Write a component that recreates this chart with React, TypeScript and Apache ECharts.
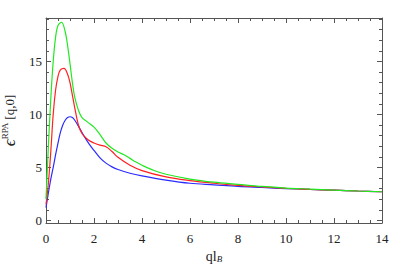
import React, { useEffect, useRef } from "react";
import * as echarts from "echarts";

const xTicks = [0, 2, 4, 6, 8, 10, 12, 14];
const yTicks = [0, 5, 10, 15];
const yMinorTicks = [1, 2, 3, 4, 6, 7, 8, 9, 11, 12, 13, 14, 16, 17, 18, 19];

const qBlue = [0, 0.1, 0.2, 0.3, 0.4, 0.5, 0.6, 0.7, 0.8, 0.9, 1.0, 1.1, 1.2, 1.4, 1.6, 1.8, 2.0, 2.25, 2.5, 2.75, 3.0, 3.5, 4, 5, 6, 7, 8, 9, 10, 11, 12, 13, 14];
const vBlue = [1.2, 2.6, 3.9, 5.0, 6.2, 7.3, 8.3, 9.0, 9.45, 9.7, 9.78, 9.7, 9.45, 8.7, 7.9, 7.2, 6.6, 5.9, 5.4, 5.05, 4.8, 4.45, 4.2, 3.8, 3.5, 3.35, 3.2, 3.1, 3.0, 2.92, 2.85, 2.77, 2.7];

const qRed = [0, 0.1, 0.2, 0.3, 0.4, 0.5, 0.6, 0.75, 0.9, 1.0, 1.1, 1.2, 1.35, 1.5, 1.75, 2.0, 2.25, 2.5, 2.75, 3.0, 3.5, 4, 5, 6, 7, 8, 9, 10, 11, 12, 13, 14];
const vRed = [1.5, 3.5, 6.5, 10.0, 12.3, 13.6, 14.2, 14.35, 13.8, 13.0, 11.8, 10.6, 9.0, 8.2, 7.6, 7.3, 7.1, 6.95, 6.5, 5.95, 5.2, 4.7, 4.1, 3.75, 3.5, 3.3, 3.15, 3.02, 2.92, 2.85, 2.77, 2.7];

const qGreen = [0, 0.1, 0.2, 0.3, 0.4, 0.5, 0.65, 0.8, 0.9, 1.0, 1.1, 1.2, 1.35, 1.5, 1.75, 2.0, 2.25, 2.5, 2.75, 3.0, 3.25, 3.5, 3.75, 4, 4.5, 5, 6, 7, 8, 9, 10, 11, 12, 13, 14];
const vGreen = [2.0, 7.0, 11.5, 15.0, 17.3, 18.4, 18.7, 17.8, 16.5, 14.8, 13.0, 11.6, 10.4, 9.7, 9.25, 8.8, 8.1, 7.3, 6.8, 6.45, 6.2, 5.85, 5.5, 5.2, 4.7, 4.35, 3.9, 3.6, 3.4, 3.2, 3.05, 2.95, 2.85, 2.77, 2.7];

const FONT = "Liberation Serif";
const FRAME = "#555";
const Y_MIN = -0.25;
const Y_MAX = 19.1;

export default function App() {
  const ref = useRef<HTMLDivElement>(null);
  useEffect(() => {
    if (!ref.current) return;
    const chart = echarts.init(ref.current, null, { renderer: "svg" });
    const xBase = (pos: "bottom" | "top", labels: boolean) => ({
      type: "value",
      position: pos,
      min: 0,
      max: 14,
      interval: 2,
      axisLine: { show: true, onZero: false, lineStyle: { color: FRAME, width: 1 } },
      axisTick: { show: true, inside: true, length: 5, lineStyle: { color: FRAME } },
      minorTick: { show: true, splitNumber: 4, length: 3, lineStyle: { color: FRAME } },
      splitLine: { show: false },
      minorSplitLine: { show: false },
      axisLabel: labels
        ? { show: true, customValues: xTicks, fontFamily: FONT, fontSize: 13, color: "#222", margin: 9 }
        : { show: false },
    });
    const yBase = (pos: "left" | "right", major: boolean, labels: boolean) => ({
      type: "value",
      position: pos,
      min: Y_MIN,
      max: Y_MAX,
      axisLine: { show: major, onZero: false, lineStyle: { color: FRAME, width: 1 } },
      axisTick: {
        show: true,
        inside: true,
        length: major ? 5 : 3,
        customValues: major ? yTicks : yMinorTicks,
        lineStyle: { color: FRAME },
      },
      splitLine: { show: false },
      axisLabel: labels
        ? { show: true, customValues: yTicks, fontFamily: FONT, fontSize: 13, color: "#222", margin: 4 }
        : { show: false },
    });
    const yMain: any = yBase("left", true, true);
    yMain.name = "{e|ϵ}{s|RPA} {t|[q,0]}";
    yMain.nameLocation = "middle";
    yMain.nameRotate = 90;
    yMain.nameGap = 21;
    yMain.nameTextStyle = {
      fontFamily: FONT,
      color: "#222",
      rich: {
        e: { fontFamily: FONT, fontSize: 17, color: "#222", fontStyle: "italic" },
        s: { fontFamily: FONT, fontSize: 9, color: "#222", padding: [0, 0, 9, 0] },
        t: { fontFamily: FONT, fontSize: 13, color: "#222" },
      },
    };
    const xMain: any = xBase("bottom", true);
    xMain.name = "{t|ql}{s|B}";
    xMain.nameLocation = "middle";
    xMain.nameGap = 25;
    xMain.nameTextStyle = {
      fontFamily: FONT,
      color: "#222",
      rich: {
        t: { fontFamily: FONT, fontSize: 14, color: "#222" },
        s: { fontFamily: FONT, fontSize: 9, color: "#222", fontStyle: "italic", padding: [4, 0, 0, 0] },
      },
    };
    const mk = (q: number[], v: number[]) => q.map((x, i) => [x, v[i]]);
    const line = (name: string, color: string, q: number[], v: number[]) => ({
      name,
      type: "line",
      xAxisIndex: 0,
      yAxisIndex: 0,
      data: mk(q, v),
      smooth: 0.35,
      showSymbol: false,
      lineStyle: { color, width: 1.2 },
      z: 2,
    });
    chart.setOption({
      animation: false,
      backgroundColor: "#fff",
      grid: { left: 46, right: 27, top: 18, bottom: 47, containLabel: false, outerBoundsMode: "none" },
      xAxis: [xMain, xBase("top", false)],
      yAxis: [yMain, yBase("right", true, false), yBase("left", false, false), yBase("right", false, false)],
      series: [
        line("blue", "#2b2bff", qBlue, vBlue),
        line("red", "#ff2020", qRed, vRed),
        line("green", "#22e822", qGreen, vGreen),
      ],
    });
    return () => chart.dispose();
  }, []);
  return <div ref={ref} style={{ width: 409, height: 270, position: "absolute", left: 0, top: 0 }} />;
}
